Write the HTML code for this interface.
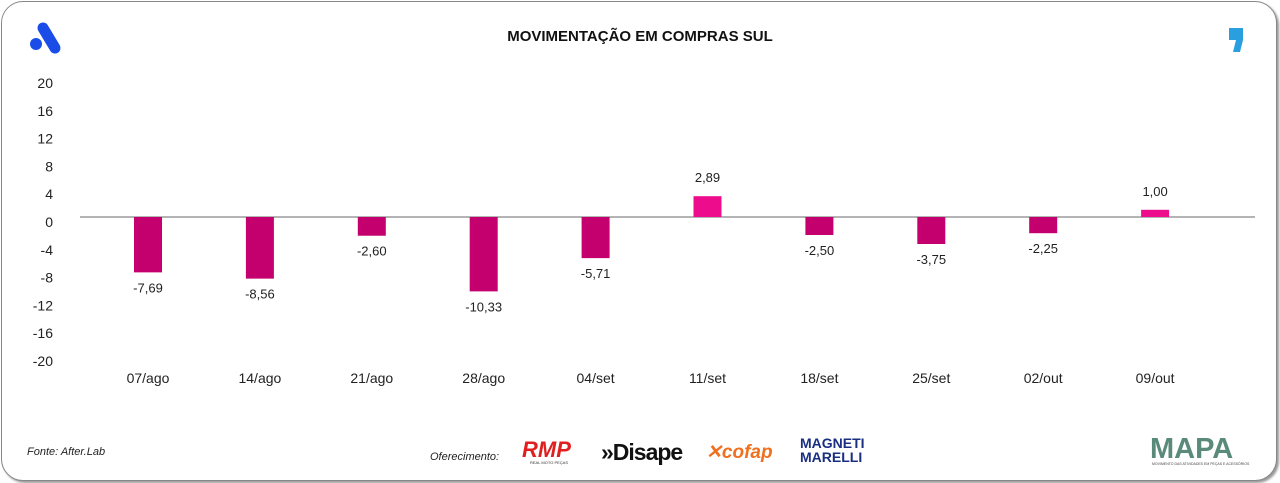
<!DOCTYPE html>
<html><head><meta charset="utf-8">
<style>
body{margin:0;background:#fff;font-family:"Liberation Sans",sans-serif;}
#card{position:absolute;left:1px;top:1px;width:1274px;height:478px;border:1.5px solid #888;border-radius:22px;background:#fff;box-shadow:2px 2px 2px #999;}
</style></head><body>
<div id="card"></div>
<svg id="chart" width="1280" height="483" style="position:absolute;left:0;top:0">
  <g>
    <circle cx="36" cy="44" r="6" fill="#1a4de8"/>
    <line x1="43" y1="28" x2="55" y2="48" stroke="#1a4de8" stroke-width="11" stroke-linecap="round"/>
  </g>
  <text x="640" y="41" text-anchor="middle" font-size="15" font-weight="bold" fill="#111">MOVIMENTAÇÃO EM COMPRAS SUL</text>
  <g>
    <rect x="1229" y="28" width="14" height="12" fill="#2a9fe0"/>
    <path d="M1236 40 L1243 40 L1240 52 L1233 52 Z" fill="#2a9fe0"/>
  </g>
  <g id="yaxis"></g>
  <line x1="80" y1="217" x2="1255" y2="217" stroke="#888" stroke-width="1.2"/>
  <g id="bars"></g>
  <g id="xaxis"></g>
  <text x="27" y="455" font-size="11" font-style="italic" fill="#222">Fonte: After.Lab</text>
  <text x="430" y="460" font-size="11" font-style="italic" fill="#222">Oferecimento:</text>
  <g><text x="522" y="457" font-size="22" font-weight="bold" font-style="italic" fill="#e02020">RMP</text><text x="530" y="464" font-size="4" fill="#333">REAL MOTO PEÇAS</text></g>
  <text x="601" y="460" font-size="23" font-weight="bold" fill="#111" letter-spacing="-1">»Disape</text>
  <text x="706" y="458" font-size="19" font-weight="bold" font-style="italic" fill="#f07020">✕cofap</text>
  <g><text x="800" y="448" font-size="14" font-weight="bold" fill="#1a2f80">MAGNETI</text><text x="800" y="462" font-size="14" font-weight="bold" fill="#1a2f80">MARELLI</text></g>
  <g><text x="1150" y="458" font-size="29" font-weight="bold" fill="#5a8a7a">MAPA</text><text x="1152" y="465" font-size="3.5" fill="#444">MOVIMENTO DAS ATIVIDADES EM PEÇAS E ACESSÓRIOS</text></g>
</svg>
<script>
const categories=["07/ago","14/ago","21/ago","28/ago","04/set","11/set","18/set","25/set","02/out","09/out"];
const values=[-7.69,-8.56,-2.60,-10.33,-5.71,2.89,-2.50,-3.75,-2.25,1.00];
const labels=["-7,69","-8,56","-2,60","-10,33","-5,71","2,89","-2,50","-3,75","-2,25","1,00"];
const ticks=[20,16,12,8,4,0,-4,-8,-12,-16,-20];
const NS="http://www.w3.org/2000/svg";
const y0=217, k=7.2;
function yS(v){return y0-v*k;}
function xS(i){return 148+i*111.9;}
const ya=document.getElementById('yaxis');
ticks.forEach(t=>{
  const e=document.createElementNS(NS,'text');
  
  
  e.setAttribute('x',53);e.setAttribute('y',222-t*6.95+5);
  e.setAttribute('text-anchor','end');e.setAttribute('font-size','14');e.setAttribute('fill','#222');
  e.textContent=t;ya.appendChild(e);
});
const bg=document.getElementById('bars'),xa=document.getElementById('xaxis');
values.forEach((v,i)=>{
  const cx=xS(i),bw=28;
  const r=document.createElementNS(NS,'rect');
  
  
  r.setAttribute('x',cx-bw/2);r.setAttribute('width',bw);
  r.setAttribute('y',Math.min(yS(v),y0));r.setAttribute('height',Math.abs(yS(v)-y0));
  r.setAttribute('fill',v<0?'#c4006e':'#ec0c8c');bg.appendChild(r);
  const l=document.createElementNS(NS,'text');
  
  
  l.setAttribute('x',cx);l.setAttribute('y',v<0?yS(v)+20:yS(v)-14);
  l.setAttribute('text-anchor','middle');l.setAttribute('font-size','13');l.setAttribute('fill','#222');
  l.textContent=labels[i];bg.appendChild(l);
  const c=document.createElementNS(NS,'text');
  
  
  c.setAttribute('x',cx);c.setAttribute('y',383);
  c.setAttribute('text-anchor','middle');c.setAttribute('font-size','14');c.setAttribute('fill','#222');
  c.textContent=categories[i];xa.appendChild(c);
});
</script>
</body></html>
